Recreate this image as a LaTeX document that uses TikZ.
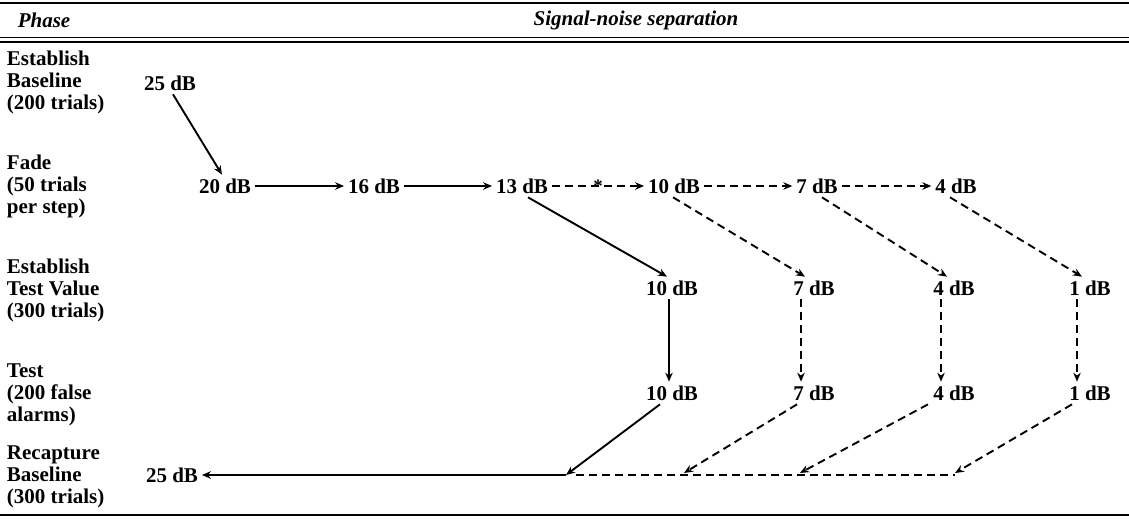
\documentclass[tikz,border=0pt]{standalone}
\usepackage{fontspec}
\setmainfont{Liberation Serif}
\usetikzlibrary{arrows.meta}

\begin{document}
\begin{tikzpicture}[x=1pt, y=-1pt, line width=1.9pt,
  every node/.style={font=\fontsize{21}{22}\selectfont\bfseries},
  fase/.style={anchor=west, align=left, inner sep=0pt},
  val/.style={inner sep=3pt},
  cabeza/.style={font=\fontsize{21}{22}\selectfont\bfseries\itshape},
  flecha/.style={-{Stealth[length=9pt, width=7.5pt]}},
  raya/.style={dash pattern=on 8pt off 5pt}]
  \useasboundingbox (0,0) rectangle (1129,519);
  % las reglas de la tabla
  \draw[line width=1.4pt] (0,3) -- (1129,3);
  \draw[line width=1.8pt] (0,37.5) -- (1129,37.5);
  \draw[line width=1.8pt] (0,42) -- (1129,42);
  \draw[line width=2.6pt] (0,515) -- (1129,515);
  % la cabecera
  \node[cabeza] (hfase) at (44,20) {Phase};
  \node[cabeza] (hsep) at (636,20) {Signal-noise separation};
  % las fases
  \node[fase] (l1) at (6,82) {Establish\\Baseline\\(200 trials)};
  \node[fase] (l2) at (6,186) {Fade\\(50 trials\\per step)};
  \node[fase] (l3) at (6,290) {Establish\\Test Value\\(300 trials)};
  \node[fase] (l4) at (6,395) {Test\\(200 false\\alarms)};
  \node[fase] (l5) at (6,477) {Recapture\\Baseline\\(300 trials)};
  % los valores
  \node[val] (b25) at (170,83) {25 dB};
  \node[val] (f20) at (225,186) {20 dB};
  \node[val] (f16) at (374,186) {16 dB};
  \node[val] (f13) at (522,186) {13 dB};
  \node[val] (f10) at (674,186) {10 dB};
  \node[val] (f7) at (817,186) {7 dB};
  \node[val] (f4) at (956,186) {4 dB};
  \node[val] (t10) at (672,288) {10 dB};
  \node[val] (t7) at (814,288) {7 dB};
  \node[val] (t4) at (954,288) {4 dB};
  \node[val] (t1) at (1090,288) {1 dB};
  \node[val] (p10) at (672,393) {10 dB};
  \node[val] (p7) at (814,393) {7 dB};
  \node[val] (p4) at (954,393) {4 dB};
  \node[val] (p1) at (1090,393) {1 dB};
  \node[val] (r25) at (172,475) {25 dB};
  % los extremos abajo
  \coordinate (e10) at (566,475);
  \coordinate (e0) at (576,475);
  \coordinate (e7) at (684,473);
  \coordinate (e4) at (800,473);
  \coordinate (e1) at (955,473);
  \coordinate (fin) at (955,475);
  % las flechas del desvanecimiento
  \draw[flecha] ([xshift=3pt]b25.south) -- ([xshift=-3pt]f20.north);
  \draw[flecha] (f20) -- (f16);
  \draw[flecha] (f16) -- (f13);
  \draw[flecha, raya] (f13) -- node[font=\fontsize{19}{19}\selectfont\bfseries] (ast) {*} (f10);
  \draw[flecha, raya] (f10) -- (f7);
  \draw[flecha, raya] (f7) -- (f4);
  % las diagonales y las verticales
  \draw[flecha] ([xshift=6pt]f13.south) -- ([xshift=-5pt]t10.north);
  \draw[flecha, raya] ([xshift=-1pt]f10.south) -- ([xshift=-9pt]t7.north);
  \draw[flecha, raya] ([xshift=5pt]f7.south) -- ([xshift=-7pt]t4.north);
  \draw[flecha, raya] ([xshift=-6pt]f4.south) -- ([xshift=-8pt]t1.north);
  \draw[flecha] ([xshift=-3pt]t10.south) -- ([xshift=-3pt]p10.north);
  \foreach \n in {7,4,1}
    \draw[flecha, raya] ([xshift=-13pt]t\n.south) -- ([xshift=-13pt]p\n.north);
  % la vuelta a la linea base
  \draw[flecha] ([xshift=-12pt]p10.south) -- (e10);
  \draw[flecha, raya] ([xshift=-17pt]p7.south) -- (e7);
  \draw[flecha, raya] ([xshift=-26pt]p4.south) -- (e4);
  \draw[flecha, raya] ([xshift=-18pt]p1.south) -- (e1);
  \draw[flecha] (e10) -- (r25);
  \draw[raya] (e0) -- (fin);
\end{tikzpicture}
\end{document}
